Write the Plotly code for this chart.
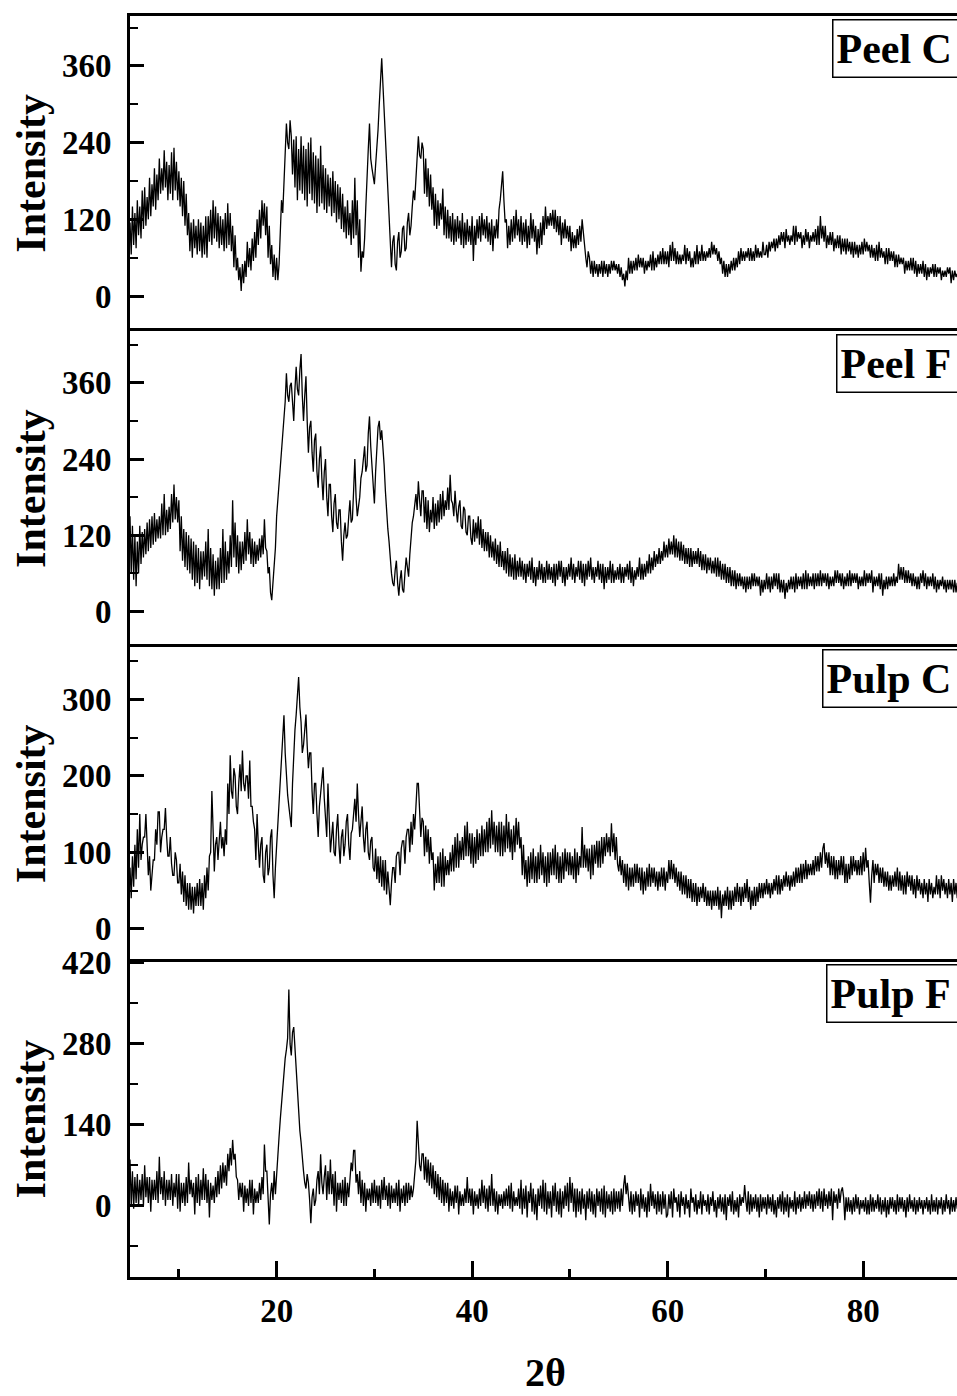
import plotly.graph_objects as go

STEP = 0.125
X0 = 5.0

peel_c = [
    115, 65, 140, 80, 130, 75, 150, 95, 140, 90, 165, 105, 170, 110, 155, 120, 185, 125, 175, 140,
    200, 135, 190, 150, 215, 160, 200, 165, 228, 170, 210, 150, 205, 160, 225, 150, 232, 165, 210, 150,
    195, 140, 185, 125, 180, 110, 160, 95, 130, 70, 115, 60, 120, 75, 110, 65, 120, 70, 115, 60,
    110, 65, 125, 60, 125, 85, 135, 80, 150, 90, 140, 85, 130, 75, 125, 80, 120, 70, 130, 75,
    145, 80, 130, 70, 110, 45, 95, 40, 60, 25, 45, 8, 50, 20, 55, 30, 85, 45, 75, 40,
    90, 55, 100, 60, 120, 80, 135, 90, 150, 110, 145, 95, 140, 60, 110, 50, 80, 30, 65, 25,
    60, 25, 50, 90, 150, 130, 180, 230, 270, 240, 230, 275, 250, 190, 245, 170, 250, 150, 230, 165,
    250, 160, 235, 150, 230, 140, 240, 160, 248, 150, 225, 145, 220, 130, 215, 140, 235, 145, 205, 135,
    200, 130, 190, 140, 185, 125, 195, 130, 180, 115, 175, 120, 170, 105, 160, 100, 140, 90, 150, 95,
    130, 80, 150, 90, 185, 95, 150, 60, 120, 38, 70, 60, 90, 140, 175, 230, 270, 215, 200, 185,
    175, 205, 230, 260, 300, 345, 372, 330, 290, 240, 196, 150, 110, 70, 45, 85, 95, 50, 40, 85,
    100, 60, 70, 105, 110, 70, 75, 115, 130, 95, 110, 140, 165, 150, 190, 215, 250, 220, 215, 240,
    230, 160, 215, 155, 200, 140, 190, 135, 170, 110, 160, 105, 150, 110, 145, 120, 168, 95, 140, 90,
    135, 90, 125, 85, 130, 80, 120, 85, 125, 90, 118, 80, 130, 75, 115, 80, 120, 85, 110, 80,
    125, 55, 110, 80, 120, 90, 125, 85, 130, 95, 120, 90, 125, 85, 115, 80, 120, 70, 110, 90,
    120, 90, 135, 150, 175, 195, 150, 115, 120, 75, 110, 80, 120, 85, 125, 90, 135, 95, 120, 85,
    125, 80, 115, 85, 120, 75, 110, 80, 130, 90, 120, 85, 110, 65, 105, 75, 115, 80, 125, 95,
    140, 105, 125, 110, 130, 110, 135, 105, 135, 100, 125, 95, 125, 80, 115, 90, 120, 90, 110, 85,
    110, 70, 100, 75, 95, 75, 105, 80, 110, 85, 120, 95, 80, 60, 45, 70, 60, 35, 55, 30,
    55, 35, 50, 30, 50, 35, 55, 30, 55, 35, 50, 30, 50, 35, 55, 40, 55, 40, 50, 35,
    50, 30, 45, 25, 35, 15, 40, 25, 60, 35, 55, 35, 55, 40, 60, 40, 65, 45, 60, 45,
    60, 35, 55, 40, 55, 45, 65, 40, 70, 40, 60, 45, 65, 50, 70, 50, 75, 50, 70, 50,
    70, 45, 80, 55, 85, 55, 75, 50, 70, 50, 65, 50, 65, 55, 80, 50, 75, 55, 70, 45,
    60, 45, 70, 50, 80, 50, 70, 55, 80, 55, 70, 55, 70, 60, 75, 60, 85, 65, 80, 65,
    75, 55, 70, 50, 60, 35, 55, 30, 50, 30, 50, 35, 55, 40, 60, 40, 60, 45, 70, 50,
    75, 55, 70, 55, 70, 60, 75, 55, 75, 55, 70, 55, 80, 60, 75, 60, 70, 60, 85, 65,
    65, 80, 60, 85, 70, 85, 75, 90, 70, 90, 75, 95, 80, 100, 85, 100, 75, 105, 85, 95,
    80, 95, 85, 110, 80, 110, 85, 100, 90, 100, 75, 95, 80, 105, 85, 100, 75, 95, 85, 100,
    85, 105, 80, 110, 80, 125, 90, 110, 85, 110, 75, 95, 80, 100, 80, 100, 70, 90, 75, 95,
    75, 95, 65, 90, 70, 90, 65, 90, 70, 85, 65, 85, 60, 85, 65, 80, 60, 80, 65, 85,
    65, 90, 70, 85, 70, 80, 60, 80, 60, 75, 55, 80, 55, 85, 60, 75, 60, 70, 50, 75,
    50, 75, 55, 70, 55, 70, 45, 65, 45, 65, 50, 60, 50, 60, 35, 55, 40, 55, 40, 60,
    40, 60, 35, 55, 30, 50, 35, 50, 35, 55, 30, 50, 25, 45, 30, 45, 35, 50, 30, 50,
    30, 45, 35, 45, 25, 40, 30, 40, 30, 45, 35, 45, 20, 40, 25, 40, 30, 35, 25, 35,
]

peel_f = [
    150, 60, 135, 50, 120, 40, 110, 60, 135, 75, 125, 85, 130, 90, 140, 95, 145, 100, 150, 105,
    155, 110, 145, 115, 150, 115, 170, 120, 185, 120, 160, 125, 165, 130, 185, 140, 200, 145, 180, 140,
    175, 95, 150, 80, 130, 70, 125, 65, 120, 60, 115, 50, 110, 40, 105, 45, 100, 35, 95, 50,
    95, 55, 110, 50, 130, 40, 100, 35, 90, 25, 80, 35, 85, 35, 100, 45, 130, 45, 110, 50,
    95, 60, 120, 70, 175, 85, 140, 70, 120, 60, 110, 65, 110, 75, 125, 80, 145, 90, 125, 75,
    115, 70, 110, 75, 105, 80, 115, 85, 120, 90, 145, 100, 95, 60, 70, 30, 18, 45, 70, 100,
    150, 175, 200, 220, 240, 270, 290, 330, 375, 340, 330, 355, 360, 320, 300, 350, 385, 350, 340, 380,
    405, 340, 300, 340, 370, 300, 250, 290, 300, 250, 220, 270, 280, 220, 195, 240, 260, 210, 175, 220,
    240, 180, 150, 200, 200, 150, 125, 170, 185, 140, 130, 160, 160, 110, 80, 120, 140, 115, 120, 150,
    175, 140, 145, 190, 240, 180, 150, 165, 180, 210, 220, 240, 260, 220, 230, 280, 307, 260, 230, 190,
    170, 220, 260, 290, 300, 270, 285, 260, 230, 190, 150, 130, 110, 80, 60, 45, 40, 65, 80, 45,
    25, 50, 65, 35, 30, 60, 85, 70, 55, 90, 120, 140, 150, 170, 185, 160, 205, 175, 150, 190,
    190, 140, 180, 130, 175, 125, 160, 140, 180, 130, 170, 135, 175, 140, 185, 145, 190, 150, 175, 160,
    195, 160, 215, 175, 170, 150, 190, 160, 140, 165, 175, 135, 130, 165, 160, 125, 120, 150, 150, 115,
    105, 145, 110, 140, 115, 150, 105, 145, 100, 130, 95, 125, 95, 125, 85, 120, 85, 110, 80, 115,
    75, 105, 70, 110, 70, 95, 65, 95, 60, 100, 55, 90, 55, 85, 50, 90, 50, 80, 55, 85,
    55, 80, 50, 75, 45, 75, 55, 80, 50, 85, 45, 70, 40, 70, 50, 80, 50, 75, 45, 70,
    45, 80, 50, 75, 50, 70, 45, 75, 40, 75, 50, 80, 55, 80, 45, 70, 40, 70, 50, 75,
    55, 85, 50, 75, 45, 70, 55, 80, 50, 80, 45, 75, 40, 75, 50, 80, 55, 85, 50, 70,
    45, 70, 55, 80, 50, 75, 45, 75, 35, 70, 45, 70, 50, 80, 45, 75, 45, 65, 50, 70,
    50, 75, 45, 70, 45, 70, 55, 75, 50, 80, 45, 70, 40, 65, 50, 70, 55, 85, 50, 75,
    50, 75, 55, 80, 60, 90, 60, 85, 65, 95, 70, 90, 75, 100, 75, 95, 80, 110, 85, 105,
    85, 115, 90, 110, 90, 120, 85, 115, 85, 110, 80, 110, 80, 105, 75, 100, 75, 100, 70, 100,
    70, 95, 75, 95, 75, 100, 70, 95, 65, 90, 65, 90, 60, 85, 65, 85, 60, 80, 60, 85,
    55, 85, 55, 80, 50, 75, 50, 75, 45, 70, 45, 70, 40, 65, 40, 65, 35, 60, 40, 60,
    40, 55, 35, 55, 30, 55, 35, 55, 35, 60, 40, 60, 40, 55, 40, 55, 25, 50, 30, 50,
    35, 60, 35, 55, 30, 55, 35, 60, 40, 60, 35, 60, 30, 50, 30, 50, 20, 45, 30, 50,
    35, 55, 35, 55, 30, 60, 35, 55, 40, 55, 35, 60, 35, 65, 35, 60, 40, 55, 40, 60,
    35, 60, 40, 60, 40, 65, 40, 60, 45, 60, 40, 60, 35, 55, 40, 55, 40, 65, 45, 65,
    45, 60, 40, 60, 35, 55, 40, 60, 40, 65, 40, 60, 45, 60, 45, 60, 35, 55, 40, 55,
    40, 65, 40, 60, 45, 60, 45, 65, 30, 55, 40, 55, 40, 60, 35, 60, 25, 50, 35, 55,
    35, 55, 40, 55, 40, 60, 40, 55, 45, 75, 50, 70, 50, 70, 45, 65, 45, 65, 45, 60,
    40, 60, 40, 55, 35, 55, 35, 60, 45, 65, 40, 60, 35, 55, 40, 55, 40, 60, 35, 55,
    30, 50, 35, 50, 40, 55, 35, 50, 30, 50, 35, 50, 35, 50, 30, 50, 30, 45, 35, 45,
]

pulp_c = [
    80, 40, 95, 55, 110, 65, 130, 80, 150, 90, 110, 120, 120, 150, 110, 70, 95, 50, 70, 90,
    90, 130, 110, 153, 153, 100, 120, 130, 130, 158, 120, 95, 95, 120, 85, 70, 70, 100, 90, 60,
    60, 85, 45, 75, 35, 70, 30, 60, 25, 60, 25, 55, 20, 55, 30, 60, 30, 65, 30, 60,
    25, 70, 40, 80, 50, 95, 100, 180, 130, 75, 110, 120, 90, 125, 140, 105, 120, 95, 130, 110,
    190, 150, 227, 180, 170, 210, 200, 160, 150, 190, 215, 180, 233, 190, 180, 200, 200, 170, 220, 160,
    160, 140, 130, 90, 150, 110, 80, 110, 120, 70, 60, 100, 110, 70, 80, 120, 130, 70, 40, 80,
    110, 140, 170, 200, 220, 250, 279, 230, 200, 175, 160, 145, 133, 190, 240, 260, 280, 300, 329, 290,
    270, 230, 240, 260, 280, 240, 210, 230, 230, 180, 150, 190, 190, 150, 120, 160, 180, 200, 211, 170,
    150, 120, 190, 140, 100, 120, 140, 100, 95, 130, 150, 110, 85, 120, 130, 95, 110, 140, 150, 110,
    90, 125, 130, 150, 170, 140, 190, 150, 120, 140, 160, 120, 100, 130, 140, 100, 90, 115, 120, 80,
    75, 105, 65, 95, 60, 95, 55, 90, 50, 90, 45, 75, 45, 31, 60, 80, 80, 60, 95, 100,
    100, 70, 105, 115, 115, 85, 120, 130, 130, 100, 140, 110, 150, 130, 160, 190, 190, 140, 120, 145,
    140, 95, 135, 100, 130, 85, 120, 90, 100, 50, 85, 60, 95, 60, 100, 55, 105, 55, 95, 70,
    90, 70, 100, 75, 110, 75, 120, 80, 125, 80, 115, 90, 120, 90, 135, 95, 140, 95, 125, 85,
    125, 80, 120, 85, 130, 90, 125, 95, 135, 95, 130, 100, 140, 100, 145, 105, 155, 110, 140, 100,
    135, 100, 140, 95, 140, 95, 135, 100, 150, 105, 140, 100, 130, 90, 135, 100, 145, 110, 140, 105,
    120, 70, 110, 65, 90, 55, 95, 60, 100, 65, 105, 60, 95, 60, 100, 65, 110, 70, 100, 60,
    95, 55, 100, 60, 100, 70, 105, 70, 110, 65, 100, 60, 95, 60, 100, 65, 105, 75, 100, 70,
    100, 70, 95, 65, 105, 60, 100, 70, 95, 80, 133, 80, 110, 80, 105, 75, 105, 65, 110, 70,
    110, 85, 115, 80, 115, 80, 120, 85, 120, 95, 125, 100, 120, 95, 138, 100, 125, 90, 120, 85,
    75, 95, 70, 90, 60, 85, 55, 85, 50, 80, 55, 80, 55, 85, 60, 85, 60, 80, 50, 80,
    45, 75, 50, 80, 55, 85, 55, 80, 60, 80, 55, 75, 50, 75, 55, 80, 55, 80, 50, 75,
    60, 90, 65, 90, 65, 85, 60, 80, 55, 75, 50, 75, 45, 70, 45, 70, 40, 65, 40, 65,
    35, 60, 35, 60, 30, 55, 35, 55, 40, 60, 35, 55, 30, 50, 30, 50, 25, 50, 30, 50,
    30, 55, 25, 50, 14, 45, 30, 50, 30, 55, 25, 50, 25, 50, 30, 55, 35, 60, 35, 55,
    30, 55, 35, 60, 40, 65, 35, 55, 25, 50, 30, 55, 30, 55, 35, 60, 40, 60, 40, 60,
    45, 65, 45, 60, 40, 60, 45, 65, 50, 70, 45, 70, 45, 65, 50, 70, 55, 75, 55, 70,
    50, 70, 55, 75, 55, 80, 60, 80, 60, 85, 60, 85, 65, 90, 65, 85, 70, 85, 70, 90,
    70, 95, 75, 95, 75, 100, 80, 105, 112, 85, 100, 80, 100, 70, 95, 70, 95, 65, 90, 65,
    90, 70, 95, 70, 95, 60, 85, 60, 85, 65, 95, 70, 95, 75, 90, 70, 90, 70, 95, 70,
    100, 75, 106, 80, 90, 60, 34, 70, 90, 60, 85, 70, 85, 60, 80, 60, 80, 55, 75, 55,
    75, 50, 70, 50, 70, 55, 75, 55, 80, 50, 75, 50, 70, 45, 70, 45, 75, 55, 70, 50,
    70, 45, 65, 40, 70, 50, 65, 45, 60, 40, 65, 45, 60, 35, 65, 45, 60, 40, 55, 45,
    70, 45, 65, 40, 70, 50, 65, 45, 60, 40, 65, 45, 60, 35, 65, 45, 60, 40, 55, 45,
]

pulp_f = [
    80, 0, 60, -5, 50, 5, 55, 0, 45, 10, 55, 0, 70, 15, 50, 5, 50, -10, 45, 10,
    45, 10, 60, 5, 85, 20, 50, 10, 60, 0, 45, 10, 45, 10, 55, 0, 40, 15, 55, -5,
    55, -10, 40, 5, 40, 0, 50, 5, 75, 20, 45, 15, 40, -15, 50, 5, 55, 0, 45, 10,
    65, 10, 55, 5, 45, -20, 40, 10, 35, 5, 50, 15, 60, 20, 70, 30, 75, 40, 70, 35,
    90, 60, 100, 70, 114, 80, 90, 50, 45, 10, 40, 15, 40, -10, 35, 5, 30, 0, 45, 5,
    45, -15, 30, 5, 25, 5, 40, 10, 50, 20, 106, 60, 60, 0, -32, 20, 40, 10, 60, 20,
    60, 90, 120, 150, 181, 210, 240, 255, 270, 290, 374, 280, 260, 300, 309, 270, 230, 200, 160, 130,
    110, 80, 60, 40, 30, 55, 40, 10, -30, 15, 30, 0, 10, 45, 60, 20, 89, 40, 20, 50,
    70, 10, 60, 20, 80, 20, 55, 0, 60, -10, 40, 10, 40, 5, 45, 0, 50, 0, 40, 15,
    45, 75, 60, 96, 96, 40, 55, 20, 60, 5, 45, 0, 40, -10, 30, 10, 30, 0, 40, 5,
    45, 5, 35, 0, 35, -5, 45, 10, 50, 10, 35, 0, 40, -5, 35, 5, 30, 5, 40, 0,
    45, -10, 30, 5, 35, 0, 40, 5, 40, 10, 35, 15, 30, 60, 80, 147, 100, 70, 60, 90,
    90, 45, 85, 40, 80, 35, 75, 30, 70, 20, 60, 15, 55, 10, 50, 5, 45, 0, 40, 5,
    40, -10, 30, 0, 25, -5, 35, 5, 35, -15, 25, 0, 20, 0, 30, 5, 50, 5, 30, 0,
    30, -15, 25, 0, 20, -5, 30, 0, 45, 5, 35, -5, 30, -10, 35, 0, 55, 0, 30, -10,
    25, -15, 20, 0, 20, -5, 25, 0, 30, 0, 35, -5, 40, -10, 25, 0, 15, 0, 30, -5,
    45, -15, 30, -5, 35, -20, 25, 5, 40, -10, 30, -15, 20, -25, 30, 0, 35, -5, 45, -10,
    40, -15, 25, -5, 25, -20, 35, 0, 40, -10, 25, -15, 30, -20, 25, -5, 35, 0, 40, -10,
    50, 5, 40, -10, 30, -20, 30, -10, 25, -15, 30, -5, 20, -25, 25, -5, 30, -10, 25, -15,
    20, -20, 30, 0, 25, -10, 30, -15, 35, -20, 25, -5, 20, -10, 25, -15, 30, -10, 25, -5,
    25, -10, 30, 0, 35, 53, 20, 40, 15, -10, 25, -15, 20, -10, 25, 0, 20, -20, 30, -5,
    20, -10, 15, -20, 25, -10, 38, 0, 25, -5, 20, -15, 25, -10, 20, -15, 25, -5, 20, -20,
    -15, 20, -5, 25, -20, 30, 5, 15, -10, 20, -20, 25, 0, 15, -15, 20, -5, 10, -20, 30,
    5, 15, -10, 20, -15, 10, -5, 25, -15, 20, 0, 10, -10, 20, -15, 15, 0, 25, -10, 10,
    -20, 15, -5, 20, -10, 15, -15, 20, -25, 15, 0, 20, -10, 25, -15, 10, -10, 15, -20, 20,
    0, 15, 5, 36, 10, -10, 25, -15, 20, -10, 15, -5, 20, -10, 15, -20, 20, -10, 15, -5,
    15, -15, 20, -5, 15, -10, 20, -15, 10, -20, 15, -5, 20, -10, 25, -15, 15, -10, 20, -20,
    15, -5, 10, -10, 25, -15, 15, -5, 20, -10, 15, -5, 25, -5, 20, 0, 25, -5, 20, -10,
    20, -5, 25, 0, 30, -5, 25, -10, 30, 0, 20, -5, 25, 0, 30, -25, 25, 5, 20, -5,
    30, 5, 25, 32, 15, -25, 15, -10, 15, -10, 10, -15, 15, -10, 20, -5, 15, -15, 10, -5,
    10, -10, 15, -15, 10, -15, 20, -10, 15, -10, 10, -5, 20, -10, 15, -15, 10, -10, 15, -20,
    10, -15, 15, -5, 15, -10, 10, -15, 20, -10, 15, -5, 15, -10, 10, -20, 15, -10, 20, -5,
    10, -10, 15, -15, 10, -10, 15, -5, 10, -15, 10, -5, 15, -10, 10, -15, 20, -10, 10, -10,
    15, -15, 10, -5, 15, -15, 10, -10, 20, -5, 10, -15, 15, -10, 10, -10, 15, -5, 10, -5,
]

labels = ["Peel C", "Peel F", "Pulp C", "Pulp F"]
series = [peel_c, peel_f, pulp_c, pulp_f]
y_ranges = [[-55, 438], [-55, 441], [-43, 369], [-123, 422]]
y_dticks = [120, 120, 100, 140]
x_ticks = [20, 40, 60, 80]
x_minor = [10, 30, 50, 70, 90]

FONT = "Liberation Serif"
fig = go.Figure()

domains = [[0.75, 1.0], [0.5, 0.75], [0.25, 0.5], [0.0, 0.25]]
label_left = [0.849, 0.854, 0.837, 0.842]

for k in range(4):
    vals = series[k]
    xs = [X0 + STEP * i for i in range(len(vals))]
    n = k + 1
    fig.add_trace(go.Scatter(
        x=xs, y=vals, mode="lines",
        line=dict(color="black", width=1.3),
        xaxis=f"x{n}", yaxis=f"y{n}", showlegend=False,
    ))
    xa = dict(
        domain=[0, 1], range=[5, 89.6], anchor=f"y{n}",
        showline=True, linecolor="black", linewidth=3,
        showgrid=False, zeroline=False,
    )
    if n == 4:
        xa.update(
            mirror=True,
            ticks="inside", tickvals=x_ticks, ticklen=16, tickwidth=3, tickcolor="black",
            showticklabels=True, ticklabelstandoff=2,
            tickfont=dict(family=FONT, size=33, color="black", weight="bold"),
            minor=dict(ticks="inside", tickvals=x_minor, ticklen=8, tickwidth=3, tickcolor="black"),
        )
    else:
        xa.update(side="top", mirror=False, ticks="", showticklabels=False, matches="x4")
    ya = dict(
        domain=domains[k], range=y_ranges[k], anchor=f"x{n}",
        showline=True, linecolor="black", linewidth=3, mirror=False,
        showgrid=False, zeroline=False,
        ticks="inside", tick0=0, dtick=y_dticks[k], ticklen=14, tickwidth=3, tickcolor="black",
        ticklabelstandoff=9,
        tickfont=dict(family=FONT, size=33, color="black", weight="bold"),
        minor=dict(ticks="inside", tick0=0, dtick=y_dticks[k] / 2, ticklen=8, tickwidth=2,
                   tickcolor="black"),
    )
    key = "" if n == 1 else str(n)
    fig.layout["xaxis" + key] = xa
    fig.layout["yaxis" + key] = ya

    fig.add_annotation(
        text="Intensity", xref="paper", yref="paper",
        x=-0.1197, y=(domains[k][0] + domains[k][1]) / 2,
        xanchor="center", yanchor="middle", textangle=-90, showarrow=False,
        font=dict(family=FONT, size=42, color="black", weight="bold"),
    )
    fig.add_annotation(
        text=labels[k], xref="paper", yref="paper",
        x=label_left[k], y=domains[k][1] - 0.002, xanchor="left", yanchor="top",
        showarrow=False, align="left", width=150, height=50,
        bordercolor="black", borderwidth=1.5, borderpad=3, bgcolor="white",
        font=dict(family=FONT, size=42, color="black", weight="bold"),
    )

fig.add_annotation(
    text="2θ", xref="paper", yref="paper", x=0.502, y=-0.0757,
    xanchor="center", yanchor="middle", showarrow=False,
    font=dict(family=FONT, size=40, color="black", weight="bold"),
)

fig.update_layout(
    width=957, height=1396,
    margin=dict(l=130, r=0, t=8, b=119),
    paper_bgcolor="white", plot_bgcolor="white",
)

fig.write_html(
    "out.html",
    config={"displayModeBar": False},
    post_script="document.body.style.margin='0';document.body.style.overflow='hidden';",
)
